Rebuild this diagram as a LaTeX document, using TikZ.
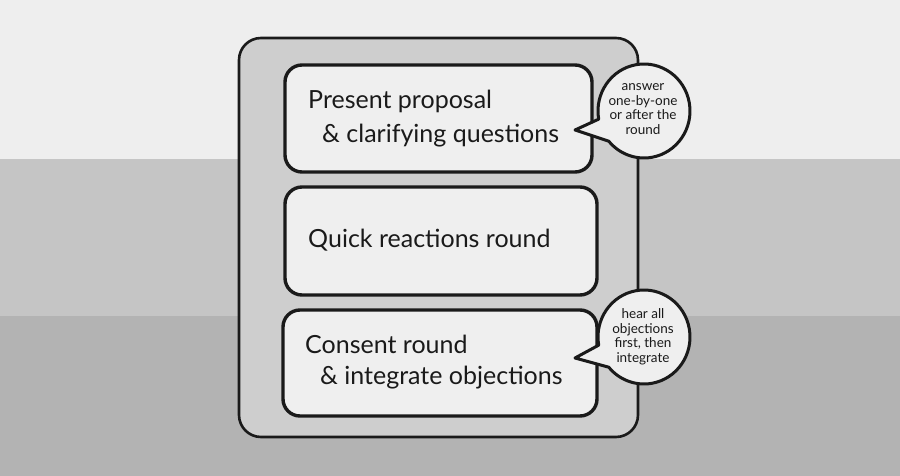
\documentclass[tikz,border=0pt]{standalone}
\usepackage{fontspec}
\usetikzlibrary{calc}
\setmainfont{Lato}
\definecolor{bgtop}{HTML}{EEEEEE}
\definecolor{bgmid}{HTML}{C5C5C5}
\definecolor{bgbot}{HTML}{B3B3B3}
\definecolor{outerfill}{HTML}{CECECE}
\definecolor{boxfill}{HTML}{EFEFEF}
\definecolor{ink}{HTML}{1A1A1A}
\tikzset{
  outerbox/.style={draw=ink, fill=outerfill, line width=2.6pt, rounded corners=22pt},
  stepbox/.style={draw=ink, fill=boxfill, line width=3.4pt, rounded corners=17pt},
  bubble/.style={draw=ink, fill=boxfill, line width=3pt, line join=round},
  maintext/.style={anchor=base west, font=\fontsize{25}{30}\selectfont, text=ink, inner sep=0pt},
  bubbletext/.style={align=center, font=\fontsize{13.5}{14.5}\selectfont, text=ink, inner sep=0pt},
}
\begin{document}
\begin{tikzpicture}[x=1pt,y=1pt]
\useasboundingbox (0,0) rectangle (900,476);
% background bands
\fill[bgtop] (0,317) rectangle (900,476);
\fill[bgmid] (0,160) rectangle (900,317);
\fill[bgbot] (0,0) rectangle (900,160);
% outer box
\draw[outerbox] (239,39) rectangle (638,438);
% step boxes
\draw[stepbox] (285,304) rectangle (592,411);
\draw[stepbox] (285,181) rectangle (597,289);
\draw[stepbox] (283,60) rectangle (597,166);
% texts
\node[maintext] (t1) at (308,367) {Present proposal};
\node[maintext] (t2) at (322,333) {\& clarifying questions};
\node[maintext] (t3) at (308,228) {Quick reactions round};
\node[maintext] (t4) at (305,122) {Consent round};
\node[maintext] (t5) at (320,91) {\& integrate objections};
% bubble 1
\coordinate (c1) at (644,365);
\draw[bubble] (575,346) -- ($(c1)+(190:46 and 47)$) arc[start angle=190, end angle=-140, x radius=46, y radius=47] -- cycle;
\node[bubbletext] (b1) at ($(c1)+(-1,2)$) {answer\\one-by-one\\or after the\\round};
% bubble 2
\coordinate (c2) at (644,139);
\draw[bubble] (575,118) -- ($(c2)+(190:46 and 47)$) arc[start angle=190, end angle=-140, x radius=46, y radius=47] -- cycle;
\node[bubbletext] (b2) at ($(c2)+(-1,0)$) {hear all\\objections\\first, then\\integrate};
\end{tikzpicture}
\end{document}
